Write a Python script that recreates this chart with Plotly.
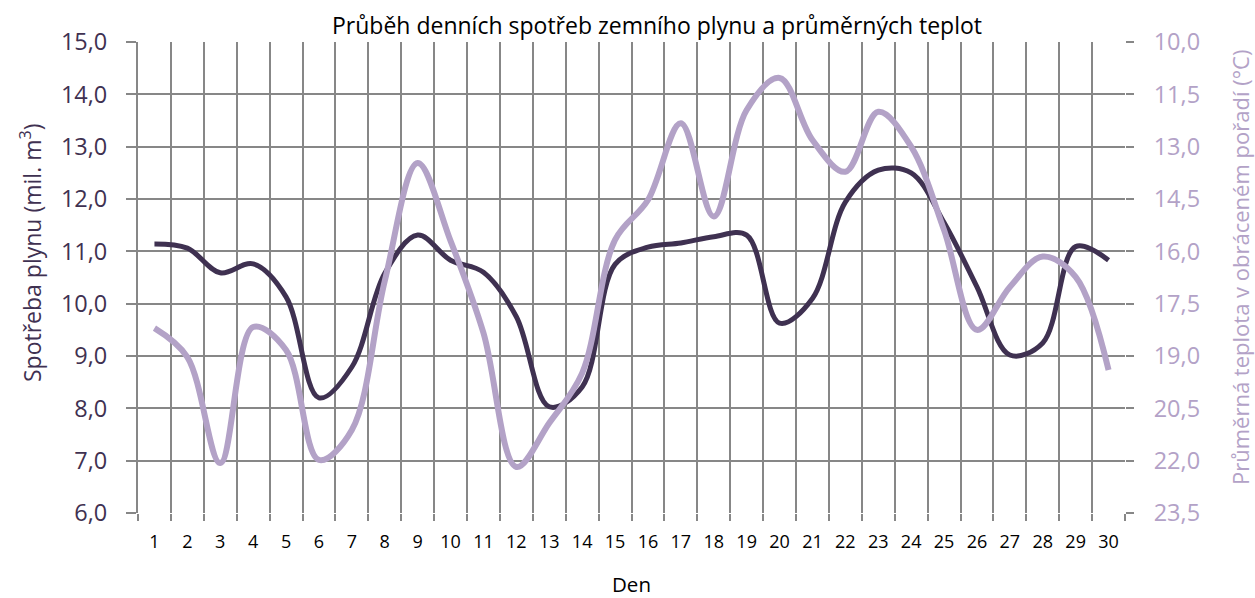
import plotly.graph_objects as go

days = list(range(1, 31))
day_labels = [str(d) for d in days]

# Daily gas consumption (mil. m3)
gas = [11.14, 11.06, 10.59, 10.76, 10.13, 8.20, 8.79, 10.58, 11.31, 10.83,
       10.60, 9.75, 8.03, 8.41, 10.75, 11.08, 11.16, 11.28, 11.31, 9.63,
       10.10, 11.94, 12.55, 12.50, 11.55, 10.32, 9.02, 9.25, 11.09, 10.83]

# Average daily temperature (°C), plotted on reversed axis
temp = [18.20, 19.03, 22.07, 18.17, 18.83, 21.98, 21.12, 16.85, 13.47, 15.70,
        18.34, 22.18, 20.92, 19.49, 15.67, 14.53, 12.33, 15.00, 11.95, 11.03,
        12.81, 13.72, 12.00, 13.00, 15.39, 18.25, 17.02, 16.15, 16.73, 19.40]

left_ticks = [6, 7, 8, 9, 10, 11, 12, 13, 14, 15]
right_ticks = [10.0, 11.5, 13.0, 14.5, 16.0, 17.5, 19.0, 20.5, 22.0, 23.5]

DARK = "#3F3151"
LIGHT = "#B3A2C7"
GRID = "#878787"
FONT = "Open Sans"

W, H = 1255, 598
L, R, T, B = 138, 130, 42, 85
PW, PH = W - L - R, H - T - B

fig = go.Figure()
fig.add_trace(go.Scatter(x=days, y=gas, mode="lines",
                         line=dict(color=DARK, width=5, shape="spline", smoothing=1.0),
                         xaxis="x", yaxis="y", showlegend=False))
fig.add_trace(go.Scatter(x=days, y=temp, mode="lines",
                         line=dict(color=LIGHT, width=6, shape="spline", smoothing=1.0),
                         xaxis="x", yaxis="y2", showlegend=False))

bounds = [d - 0.5 for d in days] + [30.5]

fig.update_layout(
    width=W, height=H,
    margin=dict(l=L, r=R, t=T, b=B),
    paper_bgcolor="white", plot_bgcolor="white",
    separators=", ",
    font=dict(family=FONT),
    xaxis=dict(range=[0.5, 30.5], tickmode="array", tickvals=days,
               ticktext=day_labels, showgrid=False,
               ticks="outside", ticklen=12, tickcolor="rgba(0,0,0,0)",
               zeroline=False, showline=False,
               tickfont=dict(size=18, color="#000000", family=FONT),
               minor=dict(tickmode="array", tickvals=bounds, showgrid=True,
                          gridcolor=GRID, gridwidth=2, ticks="outside",
                          ticklen=7, tickwidth=2, tickcolor=GRID)),
    yaxis=dict(range=[6, 15], tickmode="array", tickvals=left_ticks,
               tickformat=".1f", showgrid=True, gridcolor=GRID, gridwidth=2,
               ticks="outside", ticklen=10, tickwidth=2, tickcolor=GRID,
               showline=True, linecolor=GRID, linewidth=2, zeroline=False,
               ticklabelstandoff=14,
               tickfont=dict(size=23.5, color=DARK, family=FONT)),
    yaxis2=dict(range=[23.5, 10], overlaying="y", side="right", anchor="x",
                tickmode="array", tickvals=right_ticks, tickformat=".1f",
                showgrid=False, ticks="outside", ticklen=8, tickwidth=2,
                tickcolor=GRID, zeroline=False, showline=False,
                ticklabelstandoff=15,
                tickfont=dict(size=23.5, color=LIGHT, family=FONT)),
    annotations=[
        dict(text="Průběh denních spotřeb zemního plynu a průměrných teplot",
             xref="paper", yref="paper", x=(657 - L) / PW, y=(H - B - 25) / PH,
             xanchor="center", yanchor="middle", showarrow=False,
             font=dict(size=23, color="#000000", family=FONT)),
        dict(text="Spotřeba plynu (mil. m<sup>3</sup>)", textangle=-90,
             xref="paper", yref="paper", x=(31 - L) / PW, y=(H - B - 253) / PH,
             xanchor="center", yanchor="middle", showarrow=False,
             font=dict(size=23, color=DARK, family=FONT)),
        dict(text="Průměrná teplota v obráceném pořadí (°C)", textangle=-90,
             xref="paper", yref="paper", x=(1240 - L) / PW, y=(H - B - 268) / PH,
             xanchor="center", yanchor="middle", showarrow=False, borderpad=0,
             font=dict(size=22, color=LIGHT, family=FONT)),
        dict(text="Den", xref="paper", yref="paper", x=(631 - L) / PW,
             y=(H - B - 584) / PH, xanchor="center", yanchor="middle",
             showarrow=False, borderpad=0,
             font=dict(size=20.5, color="#000000", family=FONT)),
    ],
)

fig.write_html(
    "out.html",
    config={"displayModeBar": False},
    post_script="document.body.style.margin='0px';document.body.style.overflow='hidden';",
)
